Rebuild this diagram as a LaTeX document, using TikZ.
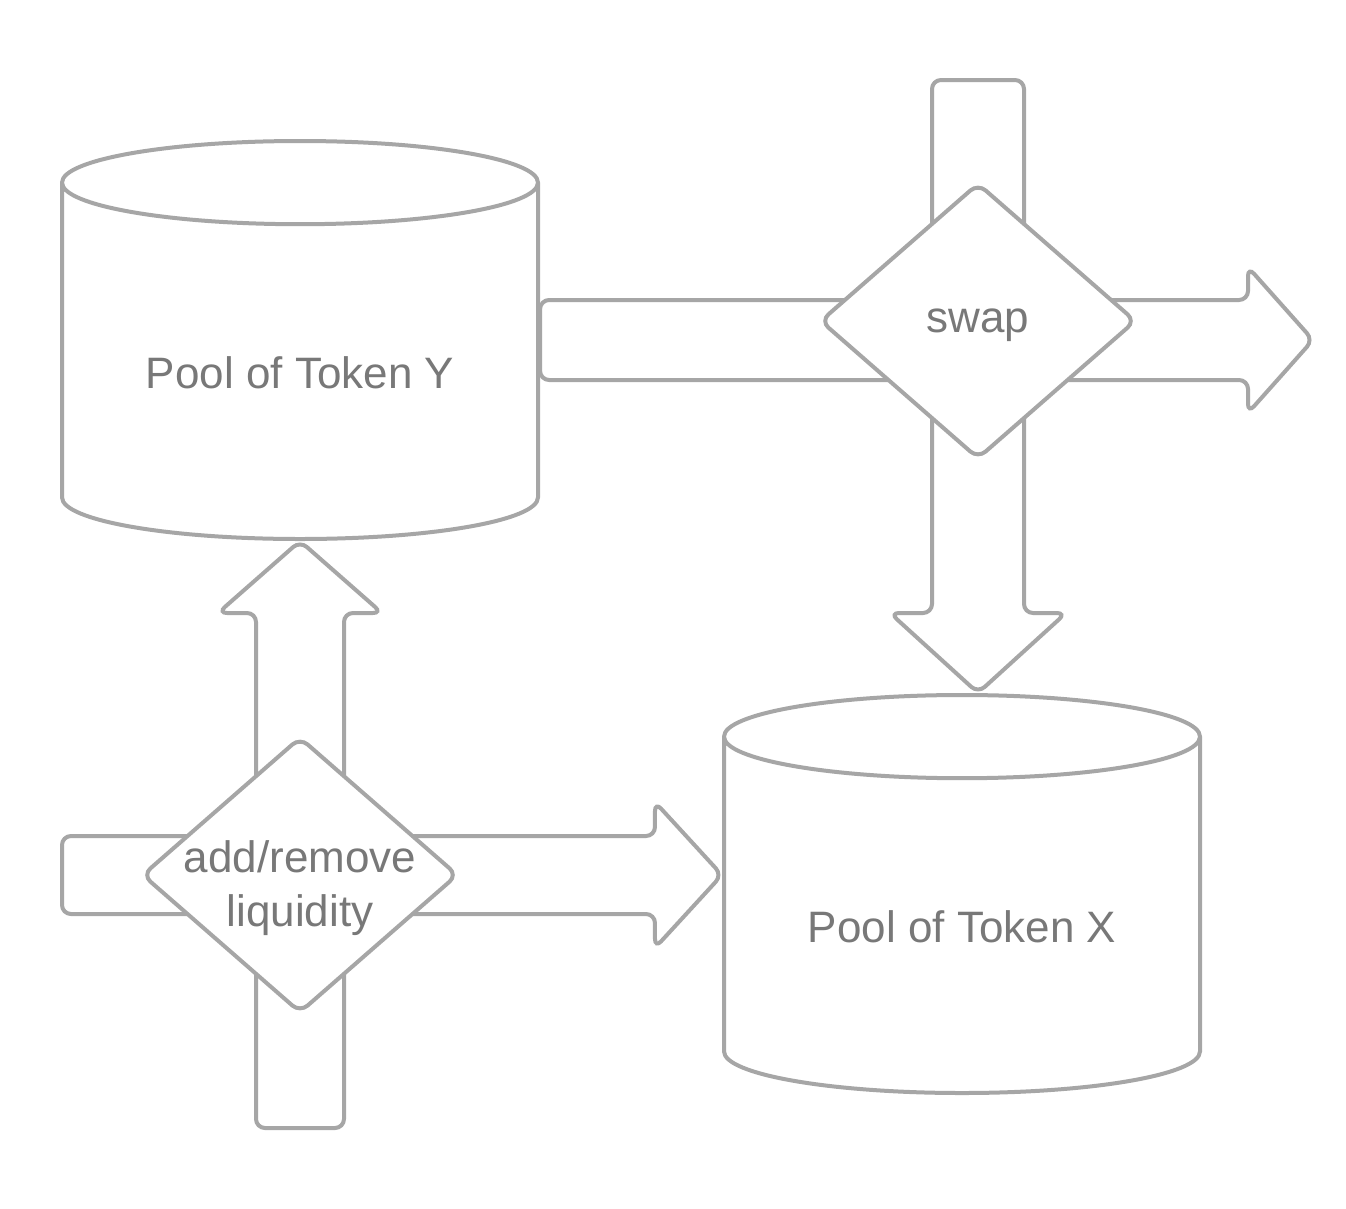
\documentclass[tikz,border=0pt]{standalone}
\usepackage{fontspec}
\setmainfont{Liberation Sans}
\usetikzlibrary{shapes.geometric,calc,backgrounds}

\definecolor{linegray}{RGB}{166,166,166}
\definecolor{textgray}{RGB}{120,120,120}

\tikzset{
	pool/.style={draw=linegray, line width=4pt, fill=white, cylinder, shape border rotate=90, aspect=0.27,
		minimum width=476pt, minimum height=398pt, inner sep=0pt, anchor=shape center,
		text height=53pt, text depth=0pt, text=textgray, font=\fontsize{44pt}{54pt}\selectfont},
	action/.style={draw=linegray, line width=4pt, fill=white, diamond, rounded corners=10pt,
		minimum width=316pt, minimum height=276pt, inner sep=-20pt, align=center, text=textgray, font=\fontsize{44pt}{54pt}\selectfont},
	fat/.style={draw=linegray, line width=4pt, fill=white, rounded corners=9pt}
}

% толстая стрелка: начало, острие, полуширина стержня, полуширина головки, длина головки
\newcommand{\fatarrow}[5]{
	\path ($(#2)!#5!(#1)$) coordinate (fah);
	\draw [fat] ($(#1)!#3!90:(#2)$) -- ($(fah)!#3!90:(#2)$) -- ($(fah)!#4!90:(#2)$) -- (#2)
		-- ($(fah)!#4!-90:(#2)$) -- ($(fah)!#3!-90:(#2)$) -- ($(#1)!#3!-90:(#2)$) -- cycle;
}

\begin{document}
\begin{tikzpicture}[x=1pt, y=-1pt]
	\useasboundingbox (0,0) rectangle (1346,1208);

	% пулы
	\node [pool] (poolY) at (300,340) {Pool of Token Y};
	\node [pool] (poolX) at (962,894) {Pool of Token X};

	% операции
	\node [action, text height=32pt, text depth=9pt] (swap) at (978,321) {swap};
	\node [action, text height=111pt, text depth=9pt] (liq) at (300,875) {add/remove\\liquidity};

	% свободные концы стрелок
	\coordinate (swapIn) at (978,80);
	\coordinate (swapOut) at (1313,340);
	\coordinate (swapTip) at (swap |- poolX.north);
	\coordinate (poolYOut) at (poolY.east |- swapOut);
	\coordinate (liqIn) at (300,1128);
	\coordinate (liqLeft) at (62,875);
	\coordinate (liqTip) at (poolX.west |- liq);

	% стрелки за узлами
	\begin{pgfonlayer}{background}
		\fatarrow{poolYOut}{swapOut}{40pt}{73pt}{65pt}
		\fatarrow{swapIn}{swapTip}{46pt}{88pt}{80pt}
		\fatarrow{liqIn}{poolY.south}{44pt}{82pt}{72pt}
		\fatarrow{liqLeft}{liqTip}{39pt}{73pt}{67pt}
	\end{pgfonlayer}
\end{tikzpicture}
\end{document}
